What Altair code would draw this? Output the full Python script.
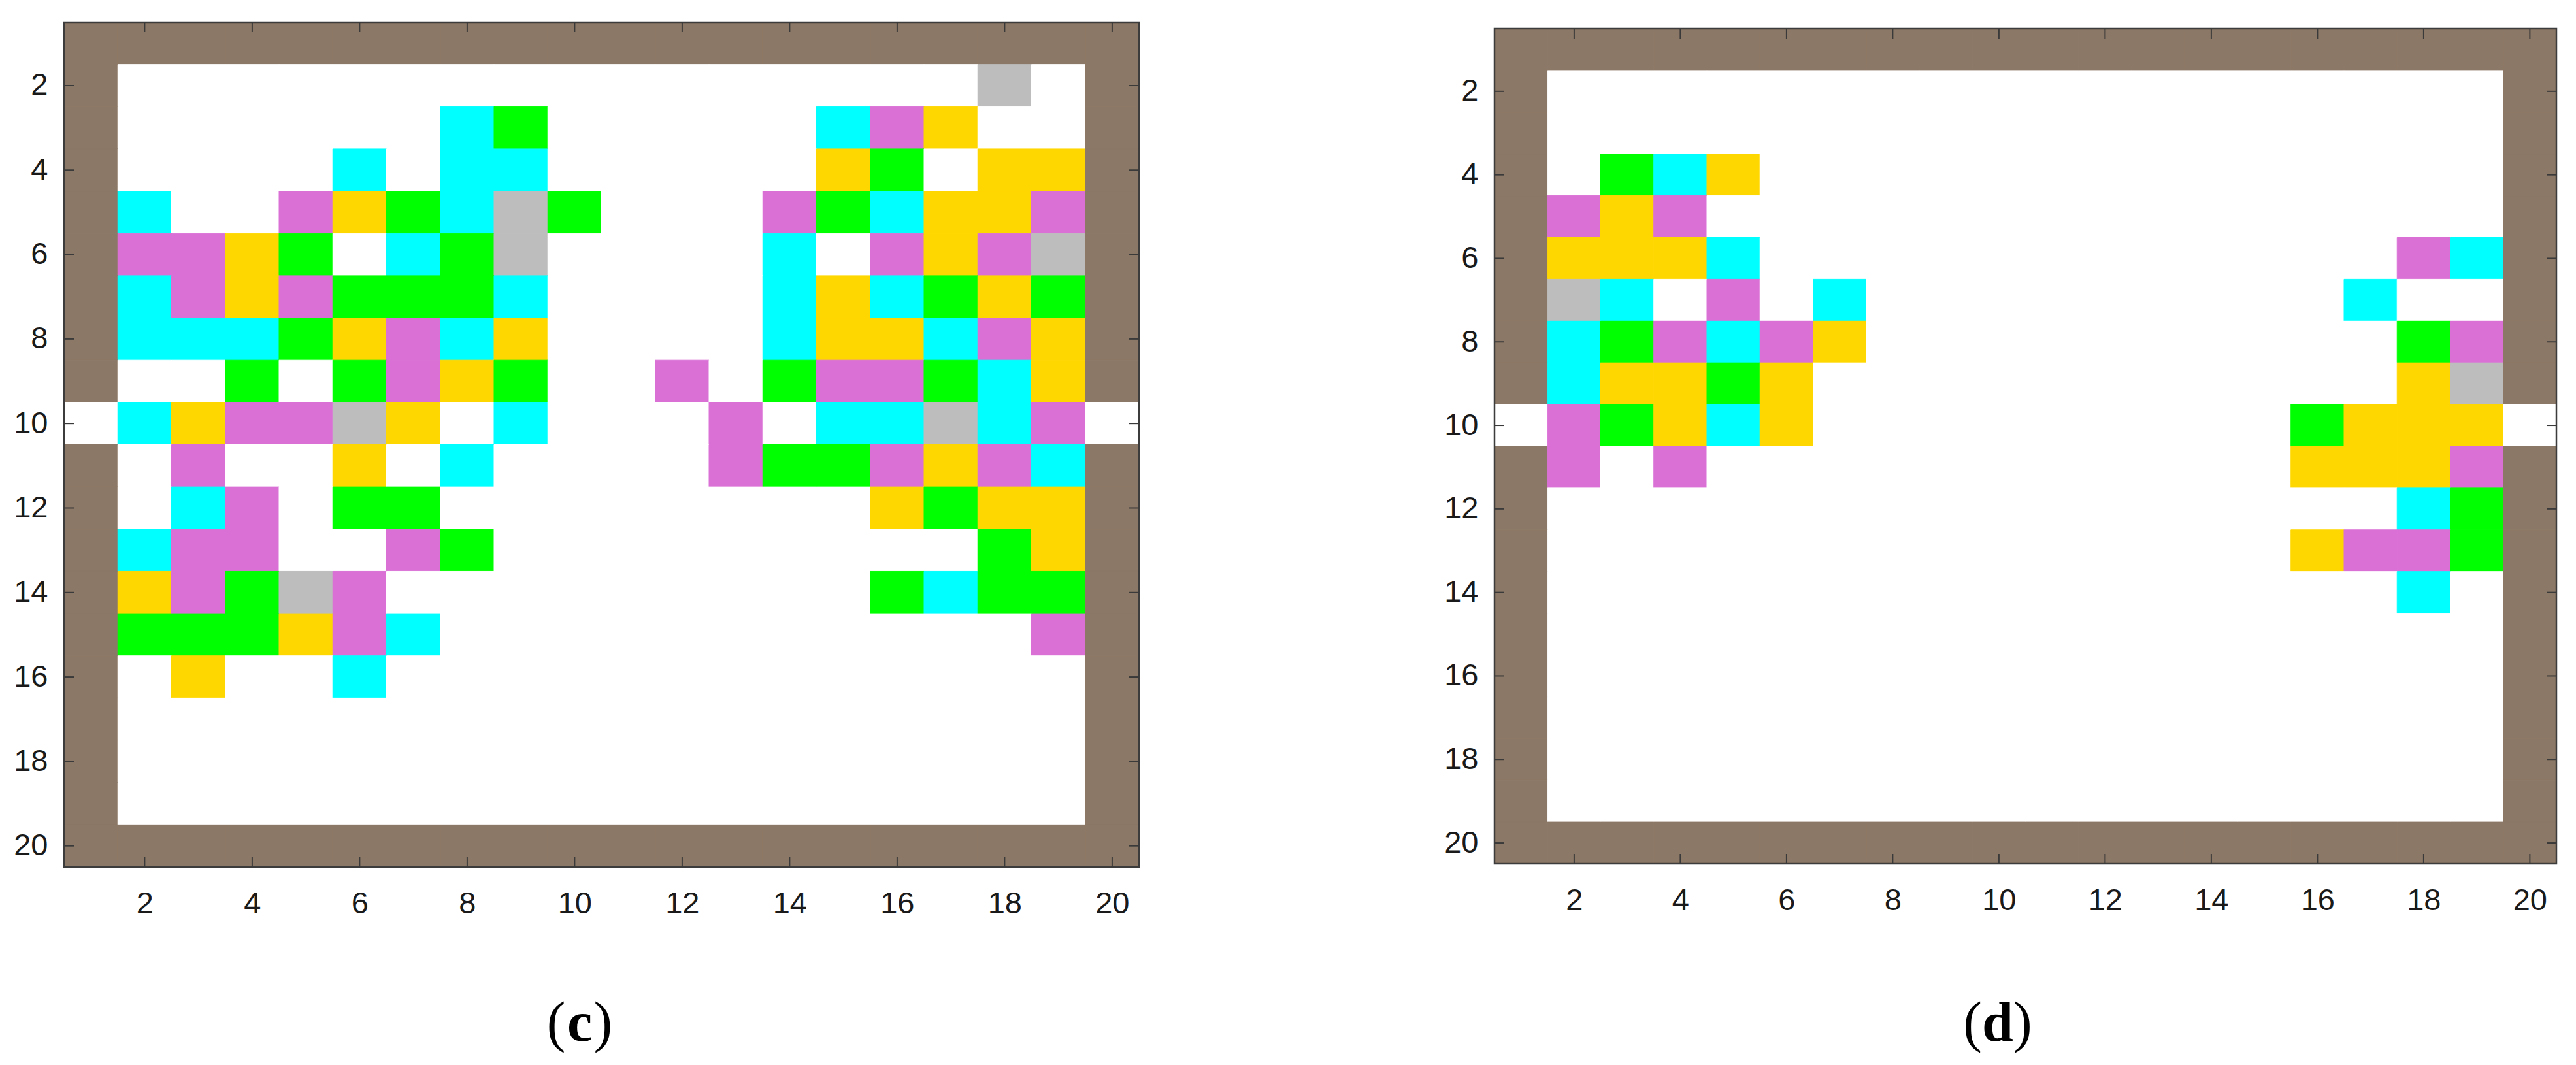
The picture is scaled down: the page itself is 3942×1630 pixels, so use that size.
import altair as alt
import pandas as pd

# Grid maps, row 1 at top. Codes: W wall, . empty, C cyan, M magenta, Y yellow, G green, S gray
panel_c_rows = [
    "WWWWW WWWWW WWWWW WWWWW",
    "W.... ..... ..... ..S.W",
    "W.... ..CG. ....C MY..W",
    "W.... C.CC. ....Y G.YYW",
    "WC..M YGCSG ...MG CYYMW",
    "WMMYG .CGS. ...C. MYMSW",
    "WCMYM GGGC. ...CY CGYGW",
    "WCCCG YMCY. ...CY YCMYW",
    "W..G. GMYG. .M.GM MGCYW",
    ".CYMM SY.C. ..M.C CSCM.",
    "W.M.. Y.C.. ..MGG MYMCW",
    "W.CM. GG... ..... YGYYW",
    "WCMM. .MG.. ..... ..GYW",
    "WYMGS M.... ..... GCGGW",
    "WGGGY MC... ..... ...MW",
    "W.Y.. C.... ..... ....W",
    "W.... ..... ..... ....W",
    "W.... ..... ..... ....W",
    "W.... ..... ..... ....W",
    "WWWWW WWWWW WWWWW WWWWW",
]

panel_d_rows = [
    "WWWWW WWWWW WWWWW WWWWW",
    "W.... ..... ..... ....W",
    "W.... ..... ..... ....W",
    "W.GCY ..... ..... ....W",
    "WMYM. ..... ..... ....W",
    "WYYYC ..... ..... ..MCW",
    "WSC.M .C... ..... .C..W",
    "WCGMC MY... ..... ..GMW",
    "WCYYG Y.... ..... ..YSW",
    ".MGYC Y.... ..... GYYY.",
    "WM.M. ..... ..... YYYMW",
    "W.... ..... ..... ..CGW",
    "W.... ..... ..... YMMGW",
    "W.... ..... ..... ..C.W",
    "W.... ..... ..... ....W",
    "W.... ..... ..... ....W",
    "W.... ..... ..... ....W",
    "W.... ..... ..... ....W",
    "W.... ..... ..... ....W",
    "WWWWW WWWWW WWWWW WWWWW",
]

tick_values = [2, 4, 6, 8, 10, 12, 14, 16, 18, 20]
axis_limits = [0.5, 20.5]

code_names = {"W": "wall", ".": "empty", "C": "cyan", "M": "magenta",
              "Y": "yellow", "G": "green", "S": "gray"}
kind_domain = ["wall", "empty", "cyan", "magenta", "yellow", "green", "gray"]
kind_colors = ["#8C7866", "#FFFFFF", "#00FFFF", "#DA70D6", "#FFD700", "#00FF00", "#BDBDBD"]


def grid_frame(rows):
    recs = []
    for r, line in enumerate(rows, start=1):
        s = line.replace(" ", "")
        assert len(s) == 20, (r, s)
        for c, ch in enumerate(s, start=1):
            recs.append({"x0": c - 0.5, "x1": c + 0.5, "y0": r - 0.5, "y1": r + 0.5,
                         "kind": code_names[ch]})
    return pd.DataFrame(recs)


def panel(rows, W, H, letter, center, top_off=0):
    df = grid_frame(rows)
    tdf = pd.DataFrame({"t": tick_values})
    fdf = pd.DataFrame({"a": [axis_limits[0]], "b": [axis_limits[1]]})
    cs = alt.Scale(domain=kind_domain, range=kind_colors)
    xs = alt.Scale(domain=axis_limits, nice=False, zero=False)
    ys = alt.Scale(domain=axis_limits, nice=False, zero=False, range=[top_off, H])
    common = dict(values=tick_values, format="d", ticks=False, tickSize=0, domain=False,
                  grid=False, labelFont="Liberation Sans", labelFontSize=47,
                  labelColor="#1a1a1a", labelOverlap=False, labelFlush=False)
    xa = alt.Axis(labelPadding=33, **common)
    ya = alt.Axis(labelPadding=25, **common)

    cells = alt.Chart(df).mark_rect(strokeWidth=1).encode(
        x=alt.X("x0:Q", scale=xs, axis=xa, title=None),
        x2="x1:Q",
        y=alt.Y("y0:Q", scale=ys, axis=ya, title=None),
        y2="y1:Q",
        color=alt.Color("kind:N", scale=cs, legend=None),
        stroke=alt.Stroke("kind:N", scale=cs, legend=None),
    )
    frame = alt.Chart(fdf).mark_rect(filled=False, stroke="#3c3c3c", strokeWidth=2.5).encode(
        x=alt.X("a:Q", title=None), x2="b:Q",
        y=alt.Y("a:Q", title=None), y2="b:Q")
    tc = "#3a3a3a"
    tl = 15
    bottom = alt.Chart(tdf).mark_rule(color=tc, strokeWidth=2).encode(
        x=alt.X("t:Q", title=None), y=alt.value(H), y2=alt.value(H - tl))
    top = alt.Chart(tdf).mark_rule(color=tc, strokeWidth=2).encode(
        x=alt.X("t:Q", title=None), y=alt.value(top_off), y2=alt.value(top_off + tl))
    left = alt.Chart(tdf).mark_rule(color=tc, strokeWidth=2).encode(
        y=alt.Y("t:Q", title=None), x=alt.value(0), x2=alt.value(tl))
    right = alt.Chart(tdf).mark_rule(color=tc, strokeWidth=2).encode(
        y=alt.Y("t:Q", title=None), x=alt.value(W), x2=alt.value(W - tl))

    fs = 86
    half = 0.25 * fs if letter == "c" else 0.28 * fs
    base_y = 1559
    lp = alt.Chart(pd.DataFrame({"s": ["("]})).mark_text(
        font="Liberation Serif", fontSize=fs, align="right", baseline="alphabetic", color="black"
    ).encode(x=alt.value(center - half), y=alt.value(base_y), text="s:N")
    lt = alt.Chart(pd.DataFrame({"s": [letter]})).mark_text(
        font="Liberation Serif", fontSize=fs, fontWeight="bold", align="center",
        baseline="alphabetic", color="black"
    ).encode(x=alt.value(center), y=alt.value(base_y), text="s:N")
    rp = alt.Chart(pd.DataFrame({"s": [")"]})).mark_text(
        font="Liberation Serif", fontSize=fs, align="left", baseline="alphabetic", color="black"
    ).encode(x=alt.value(center + half), y=alt.value(base_y), text="s:N")

    layers = [cells, frame, bottom, top, left, right, lp, lt, rp]
    return alt.layer(*layers).properties(width=W, height=H)


pc = panel(panel_c_rows, 1645, 1293, "c", 789)
pd_ = panel(panel_d_rows, 1625, 1288, "d", 770, top_off=10)

chart = alt.hconcat(pc, pd_, spacing=464).resolve_scale(
    x="independent", y="independent"
).properties(
    padding={"left": 12, "top": 24, "right": 5, "bottom": 5}
).configure_view(stroke=None)

chart.save("out.html", embed_options={"renderer": "svg", "actions": False})
